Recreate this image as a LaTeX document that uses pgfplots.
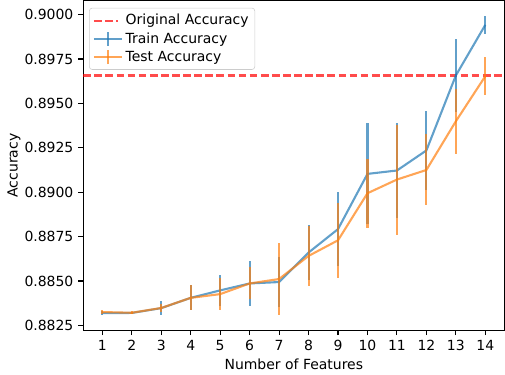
\documentclass[border=0pt]{standalone}
\usepackage{fontspec}
\setmainfont{DejaVu Sans}
\usepackage{pgfplots}
\usepackage{pgfplotstable}
\pgfplotsset{compat=1.18}
\definecolor{tabblue}{RGB}{31,119,180}
\definecolor{taborange}{RGB}{255,127,14}

% n, train mean/err, test mean/err
\pgfplotstableread{
n  train   trainerr test    testerr
1  0.88319 0.00010  0.88325 0.00012
2  0.88320 0.00008  0.88321 0.00008
3  0.88347 0.00040  0.88348 0.00022
4  0.88405 0.00070  0.88405 0.00070
5  0.88447 0.00088  0.88426 0.00090
6  0.88486 0.00125  0.88486 0.00090
7  0.88494 0.00140  0.88511 0.00200
8  0.88660 0.00155  0.88641 0.00170
9  0.88792 0.00210  0.88729 0.00210
10 0.89103 0.00285  0.88994 0.00193
11 0.89122 0.00270  0.89071 0.00310
12 0.89235 0.00220  0.89125 0.00200
13 0.89657 0.00205  0.89399 0.00182
14 0.89942 0.00050  0.89653 0.00106
}\acc

\pgfplotsset{errleg/.style={legend image code/.code={
  \draw[##1] (0pt,0pt) -- (20pt,0pt);
  \draw[##1] (10pt,-5pt) -- (10pt,5pt);}}}

\begin{document}
\begin{tikzpicture}
\begin{axis}[
  width=301.7pt, height=236.2pt, scale only axis,
  xmin=0.35, xmax=14.65, ymin=0.88222, ymax=0.90079,
  xtick={1,...,14},
  ytick={0.8825,0.885,0.8875,0.89,0.8925,0.895,0.8975,0.9},
  y tick label style={/pgf/number format/.cd, fixed, fixed zerofill, precision=4, /tikz/.cd},
  /pgf/number format/assume math mode=true,
  scaled y ticks=false,
  tick align=outside, tick pos=left,
  major tick length=3.5pt,
  every tick/.style={black, line width=0.8pt},
  axis line style={line width=0.8pt},
  xlabel={Number of Features}, ylabel={Accuracy},
  xlabel style={yshift=1pt},
  ylabel style={yshift=-4pt},
  legend cell align=left,
  legend style={at={(0.014,0.978)}, anchor=north west, draw=black!20,
    rounded corners=2pt, fill=white, fill opacity=0.8, text opacity=1,
    font=\fontsize{10}{12}\selectfont, row sep=0pt, inner sep=2.5pt},
]
\addlegendimage{red, opacity=0.7, line width=1.5pt, dash pattern=on 5.55pt off 2.4pt}
\addlegendentry{Original Accuracy}
\addlegendimage{tabblue, opacity=0.7, line width=1.5pt, errleg}
\addlegendentry{Train Accuracy}
\addlegendimage{taborange, opacity=0.7, line width=1.5pt, errleg}
\addlegendentry{Test Accuracy}

\addplot[forget plot, red, opacity=0.7, line width=1.5pt, dash pattern=on 5.55pt off 2.4pt]
  coordinates {(0.35,0.89657) (14.65,0.89657)};
\addplot[forget plot, tabblue, opacity=0.7, line width=1.5pt, mark=none,
  error bars/.cd, y dir=both, y explicit, error mark=none,
  error bar style={line width=1.5pt}]
  table[x=n, y=train, y error=trainerr] {\acc};
\addplot[forget plot, taborange, opacity=0.7, line width=1.5pt, mark=none,
  error bars/.cd, y dir=both, y explicit, error mark=none,
  error bar style={line width=1.5pt}]
  table[x=n, y=test, y error=testerr] {\acc};
\end{axis}
\path ([xshift=-2pt]current bounding box.west);
\end{tikzpicture}
\end{document}
